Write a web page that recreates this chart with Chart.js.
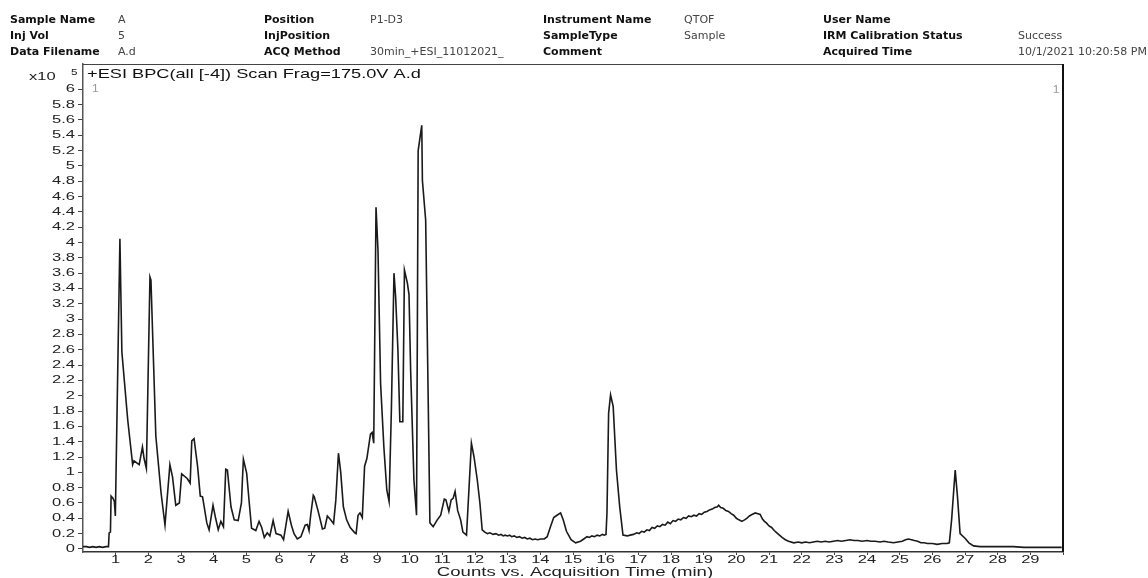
<!DOCTYPE html>
<html>
<head>
<meta charset="utf-8">
<script src="https://cdn.jsdelivr.net/npm/chart.js@4.4.1/dist/chart.umd.min.js"></script>
<style>
  body { margin: 0; background: #fff; }
  #wrap { position: relative; width: 1148px; height: 578px; overflow: hidden; }
  #chart { position: absolute; left: 0; top: 0; }
  .hd { position: absolute; font-family: "DejaVu Sans", Verdana, sans-serif; font-size: 11px; line-height: 16px; white-space: nowrap; color: #444; }
  .hd.b { font-weight: bold; color: #111; }
</style>
</head>
<body>
<div id="wrap">
  <canvas id="chart" width="1148" height="578"></canvas>
  <div id="header"></div>
</div>
<script>
// header fields: [label, value]
const headerCols = [
  [['Sample Name', 'A'], ['Inj Vol', '5'], ['Data Filename', 'A.d']],
  [['Position', 'P1-D3'], ['InjPosition', ''], ['ACQ Method', '30min_+ESI_11012021_']],
  [['Instrument Name', 'QTOF'], ['SampleType', 'Sample'], ['Comment', '']],
  [['User Name', ''], ['IRM Calibration Status', 'Success'], ['Acquired Time', '10/1/2021 10:20:58 PM']]
];
const headerLabelX = [10, 264, 543, 823];
const headerValueX = [118, 370, 684, 1018];
const headerRowY = [12, 28, 44];

const chartTitle = '+ESI BPC(all [-4]) Scan Frag=175.0V A.d';
const xAxisTitle = 'Counts vs. Acquisition Time (min)';

// tick labels
const yTickValues = [0, 0.2, 0.4, 0.6, 0.8, 1, 1.2, 1.4, 1.6, 1.8, 2, 2.2, 2.4, 2.6, 2.8, 3, 3.2, 3.4, 3.6, 3.8, 4, 4.2, 4.4, 4.6, 4.8, 5, 5.2, 5.4, 5.6, 5.8, 6];
const yTickLabels = ['0', '0.2', '0.4', '0.6', '0.8', '1', '1.2', '1.4', '1.6', '1.8', '2', '2.2', '2.4', '2.6', '2.8', '3', '3.2', '3.4', '3.6', '3.8', '4', '4.2', '4.4', '4.6', '4.8', '5', '5.2', '5.4', '5.6', '5.8', '6'];
const xTickValues = [1, 2, 3, 4, 5, 6, 7, 8, 9, 10, 11, 12, 13, 14, 15, 16, 17, 18, 19, 20, 21, 22, 23, 24, 25, 26, 27, 28, 29, 30];
const xTickLabels = ['1', '2', '3', '4', '5', '6', '7', '8', '9', '10', '11', '12', '13', '14', '15', '16', '17', '18', '19', '20', '21', '22', '23', '24', '25', '26', '27', '28', '29', ''];

// acquisition time (min)
const times = [
  0.00, 0.10, 0.20, 0.30, 0.40, 0.50, 0.60, 0.70, 0.78, 0.80,
  0.84, 0.86, 0.92, 0.96, 0.99, 1.13, 1.19, 1.37, 1.52, 1.56,
  1.72, 1.82, 1.87, 1.94, 2.05, 2.08, 2.23, 2.39, 2.51, 2.66,
  2.74, 2.84, 2.95, 3.02, 3.19, 3.28, 3.33, 3.40, 3.51, 3.59,
  3.66, 3.79, 3.86, 3.98, 4.06, 4.14, 4.22, 4.30, 4.37, 4.42,
  4.53, 4.63, 4.75, 4.85, 4.88, 4.91, 5.01, 5.09, 5.16, 5.29,
  5.39, 5.47, 5.55, 5.64, 5.72, 5.82, 5.91, 6.06, 6.14, 6.28,
  6.38, 6.46, 6.56, 6.67, 6.80, 6.87, 6.92, 6.97, 7.05, 7.08,
  7.20, 7.33, 7.40, 7.48, 7.58, 7.67, 7.74, 7.82, 7.89, 7.97,
  8.07, 8.18, 8.32, 8.36, 8.42, 8.48, 8.55, 8.62, 8.69, 8.80,
  8.85, 8.90, 8.97, 9.03, 9.11, 9.21, 9.30, 9.37, 9.44, 9.52,
  9.57, 9.64, 9.70, 9.79, 9.84, 9.93, 9.98, 10.03, 10.13, 10.21,
  10.26, 10.37, 10.39, 10.49, 10.56, 10.62, 10.72, 10.83, 10.95, 11.06,
  11.11, 11.20, 11.27, 11.33, 11.39, 11.47, 11.56, 11.63, 11.74, 11.89,
  11.97, 12.07, 12.15, 12.22, 12.30, 12.38, 12.46, 12.55, 12.64, 12.72,
  12.80, 12.86, 12.92, 13.00, 13.06, 13.12, 13.20, 13.28, 13.36, 13.44,
  13.52, 13.60, 13.68, 13.76, 13.84, 13.92, 14.01, 14.12, 14.21, 14.31,
  14.41, 14.51, 14.62, 14.70, 14.80, 14.94, 15.08, 15.23, 15.33, 15.43,
  15.50, 15.58, 15.66, 15.74, 15.82, 15.90, 15.96, 16.01, 16.04, 16.09,
  16.15, 16.23, 16.33, 16.43, 16.53, 16.66, 16.75, 16.85, 16.95, 17.02,
  17.10, 17.18, 17.26, 17.34, 17.42, 17.50, 17.58, 17.66, 17.74, 17.82,
  17.90, 17.98, 18.06, 18.14, 18.22, 18.30, 18.38, 18.46, 18.54, 18.62,
  18.70, 18.78, 18.86, 18.94, 19.02, 19.10, 19.18, 19.26, 19.34, 19.42,
  19.46, 19.52, 19.60, 19.68, 19.76, 19.84, 19.92, 20.00, 20.08, 20.17,
  20.25, 20.32, 20.40, 20.48, 20.58, 20.66, 20.73, 20.80, 20.86, 20.92,
  21.00, 21.08, 21.16, 21.24, 21.32, 21.40, 21.50, 21.60, 21.76, 21.90,
  22.00, 22.12, 22.24, 22.36, 22.48, 22.60, 22.72, 22.84, 22.97, 23.10,
  23.22, 23.35, 23.48, 23.60, 23.72, 23.85, 24.00, 24.12, 24.25, 24.40,
  24.52, 24.65, 24.81, 24.95, 25.08, 25.18, 25.27, 25.36, 25.45, 25.55,
  25.65, 25.75, 25.85, 26.00, 26.15, 26.30, 26.45, 26.52, 26.59, 26.70,
  26.77, 26.85, 27.00, 27.12, 27.26, 27.46, 27.80, 28.10, 28.48, 28.80,
  29.20, 29.60, 29.96
];
// counts (x10^5)
const counts = [
  0.03, 0.03, 0.02, 0.03, 0.02, 0.03, 0.02, 0.03, 0.03, 0.21,
  0.22, 0.69, 0.66, 0.62, 0.43, 4.05, 2.57, 1.68, 1.10, 1.15,
  1.10, 1.33, 1.18, 1.05, 3.55, 3.51, 1.47, 0.73, 0.31, 1.10,
  0.94, 0.57, 0.60, 0.98, 0.92, 0.86, 1.41, 1.44, 1.07, 0.69,
  0.68, 0.34, 0.25, 0.57, 0.40, 0.25, 0.36, 0.29, 1.04, 1.03,
  0.55, 0.38, 0.37, 0.60, 0.90, 1.17, 0.99, 0.60, 0.27, 0.24,
  0.36, 0.28, 0.15, 0.21, 0.17, 0.37, 0.20, 0.18, 0.12, 0.49,
  0.31, 0.20, 0.13, 0.16, 0.31, 0.32, 0.24, 0.44, 0.70, 0.68,
  0.49, 0.26, 0.27, 0.43, 0.38, 0.33, 0.64, 1.25, 1.00, 0.55,
  0.38, 0.28, 0.21, 0.20, 0.44, 0.47, 0.41, 1.08, 1.18, 1.50,
  1.52, 1.38, 4.46, 3.90, 2.16, 1.33, 0.77, 0.62, 1.81, 3.60,
  3.29, 2.60, 1.66, 1.66, 3.64, 3.47, 3.32, 2.33, 0.90, 0.44,
  5.20, 5.53, 4.81, 4.29, 2.17, 0.34, 0.29, 0.37, 0.44, 0.65,
  0.64, 0.49, 0.64, 0.66, 0.75, 0.50, 0.38, 0.22, 0.18, 1.38,
  1.20, 0.90, 0.60, 0.25, 0.22, 0.20, 0.21, 0.19, 0.20, 0.18,
  0.19, 0.17, 0.18, 0.17, 0.18, 0.16, 0.17, 0.15, 0.16, 0.14,
  0.15, 0.13, 0.14, 0.12, 0.13, 0.12, 0.13, 0.13, 0.16, 0.29,
  0.41, 0.44, 0.47, 0.38, 0.23, 0.12, 0.08, 0.10, 0.13, 0.16,
  0.15, 0.17, 0.16, 0.18, 0.17, 0.19, 0.18, 0.19, 0.47, 1.77,
  2.01, 1.86, 1.03, 0.55, 0.18, 0.17, 0.18, 0.19, 0.21, 0.20,
  0.23, 0.22, 0.25, 0.24, 0.28, 0.27, 0.30, 0.29, 0.32, 0.31,
  0.35, 0.33, 0.37, 0.36, 0.39, 0.38, 0.41, 0.40, 0.43, 0.42,
  0.44, 0.43, 0.46, 0.45, 0.48, 0.49, 0.51, 0.52, 0.54, 0.55,
  0.57, 0.54, 0.53, 0.50, 0.49, 0.46, 0.44, 0.40, 0.38, 0.36,
  0.38, 0.40, 0.43, 0.45, 0.47, 0.46, 0.45, 0.39, 0.36, 0.34,
  0.30, 0.28, 0.24, 0.21, 0.18, 0.15, 0.12, 0.10, 0.08, 0.09,
  0.08, 0.09, 0.08, 0.09, 0.10, 0.09, 0.10, 0.09, 0.10, 0.11,
  0.10, 0.11, 0.12, 0.11, 0.11, 0.10, 0.11, 0.10, 0.10, 0.09,
  0.10, 0.09, 0.08, 0.09, 0.10, 0.12, 0.13, 0.12, 0.11, 0.10,
  0.08, 0.08, 0.07, 0.07, 0.06, 0.07, 0.07, 0.08, 0.38, 1.03,
  0.68, 0.20, 0.14, 0.08, 0.04, 0.03, 0.03, 0.03, 0.03, 0.02,
  0.02, 0.02, 0.02
];

// header as html text
const header = document.getElementById('header');
headerCols.forEach((col, c) => {
  col.forEach((row, r) => {
    const lab = document.createElement('div');
    lab.className = 'hd b';
    lab.style.left = headerLabelX[c] + 'px';
    lab.style.top = headerRowY[r] + 'px';
    lab.textContent = row[0];
    header.appendChild(lab);
    if (row[1] !== '') {
      const val = document.createElement('div');
      val.className = 'hd';
      val.style.left = headerValueX[c] + 'px';
      val.style.top = headerRowY[r] + 'px';
      val.textContent = row[1];
      header.appendChild(val);
    }
  });
});

// the reference text is horizontally stretched, so draw it with a scale
function wideText(ctx, str, x, y, align, font, sx, color) {
  ctx.save();
  ctx.font = font;
  ctx.fillStyle = color;
  ctx.textAlign = align;
  ctx.textBaseline = 'middle';
  ctx.translate(x, y);
  ctx.scale(sx, 1);
  ctx.fillText(str, 0, 0);
  ctx.restore();
}

const FONT = '"Liberation Sans", Arial, sans-serif';

const framePlugin = {
  id: 'frame',
  afterDraw(chart) {
    const ctx = chart.ctx;
    const a = chart.chartArea;
    const xs = chart.scales.x;
    const ys = chart.scales.y;
    // top and right border of the box
    ctx.save();
    ctx.strokeStyle = '#444';
    ctx.lineWidth = 1.2;
    ctx.beginPath();
    ctx.moveTo(a.left, a.top + 0.5);
    ctx.lineTo(a.right, a.top + 0.5);
    ctx.stroke();
    ctx.strokeStyle = '#111';
    ctx.lineWidth = 2;
    ctx.beginPath();
    ctx.moveTo(a.right, a.top);
    ctx.lineTo(a.right, a.bottom);
    ctx.stroke();
    ctx.restore();

    yTickValues.forEach((v, i) => {
      wideText(ctx, yTickLabels[i], 75, ys.getPixelForValue(v), 'right', '11px ' + FONT, 1.5, '#222');
    });
    xTickValues.forEach((v, i) => {
      if (xTickLabels[i]) wideText(ctx, xTickLabels[i], xs.getPixelForValue(v), 560, 'center', '11px ' + FONT, 1.5, '#222');
    });
    wideText(ctx, xAxisTitle, (a.left + a.right) / 2 + 2, 573, 'center', '12px ' + FONT, 1.55, '#222');
    wideText(ctx, chartTitle, a.left + 4, 74, 'left', '13px ' + FONT, 1.4, '#111');
    wideText(ctx, 'x10', 29, 77, 'left', '11px ' + FONT, 1.5, '#222');
    wideText(ctx, '5', 71, 73, 'left', '9px ' + FONT, 1.3, '#222');
    wideText(ctx, '1', a.left + 9, 89, 'left', '10px ' + FONT, 1.2, '#999');
    wideText(ctx, '1', a.right - 7, 90, 'center', '10px ' + FONT, 1.2, '#999');
  }
};

const points = times.map((t, i) => ({ x: t, y: counts[i] }));

new Chart(document.getElementById('chart'), {
  type: 'line',
  data: {
    datasets: [{
      data: points,
      borderColor: '#1a1a1a',
      borderWidth: 1.6,
      pointRadius: 0,
      tension: 0,
      fill: false
    }]
  },
  options: {
    responsive: false,
    animation: false,
    devicePixelRatio: 1,
    layout: { padding: { top: 64, right: 85, left: 0, bottom: 0 } },
    plugins: {
      legend: { display: false },
      tooltip: { enabled: false }
    },
    scales: {
      x: {
        type: 'linear',
        min: 0,
        max: 30,
        afterBuildTicks: (s) => { s.ticks = xTickValues.map(v => ({ value: v })); },
        afterFit: (s) => { s.height = 26; },
        ticks: { display: false },
        grid: { drawOnChartArea: false, drawTicks: true, tickLength: 3, color: '#444' },
        border: { color: '#333', width: 1.5 }
      },
      y: {
        type: 'linear',
        min: -0.04,
        max: 6.33,
        afterBuildTicks: (s) => { s.ticks = yTickValues.map(v => ({ value: v })); },
        afterFit: (s) => { s.width = 83; },
        ticks: { display: false },
        grid: { drawOnChartArea: false, drawTicks: true, tickLength: 5, color: '#444' },
        border: { color: '#555', width: 1.5 }
      }
    }
  },
  plugins: [framePlugin]
});
</script>
</body>
</html>
